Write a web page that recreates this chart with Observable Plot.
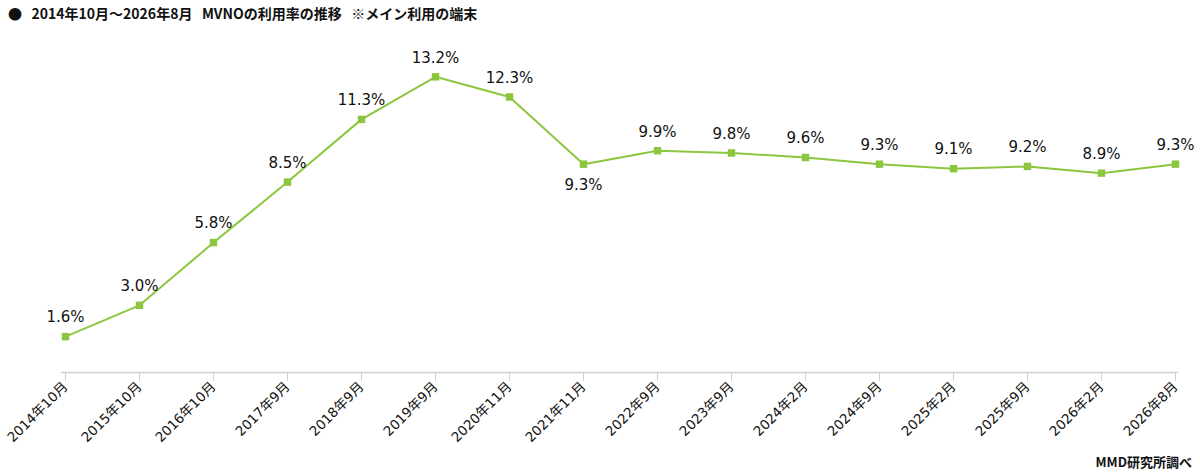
<!DOCTYPE html>
<html><head><meta charset="utf-8">
<script src="https://cdn.jsdelivr.net/npm/d3@7"></script>
<script src="https://cdn.jsdelivr.net/npm/@observablehq/plot@0.6"></script>
<style>
body{margin:0;background:#fff;font-family:"Noto Sans CJK JP","Noto Sans",sans-serif;}
#wrap{position:relative;width:1200px;height:475px;}
#title{position:absolute;left:8px;top:3px;font-size:14px;font-weight:bold;color:#111;}
#cap{position:absolute;right:8px;bottom:4px;font-size:13px;font-weight:bold;color:#111;}
#chart{position:absolute;left:0;top:30px;}
</style></head><body>
<div id="wrap">
<div id="title">●&nbsp;&nbsp;&nbsp;2014年10月～2026年8月&nbsp;&nbsp;&nbsp;MVNOの利用率の推移&nbsp;&nbsp;&nbsp;※メイン利用の端末</div>
<div id="chart"></div>
<div id="cap">MMD研究所調べ</div>
</div>
<script>
const periods=["2014年10月","2015年10月","2016年10月","2017年9月","2018年9月","2019年9月","2020年11月","2021年11月","2022年9月","2023年9月","2024年2月","2024年9月","2025年2月","2025年9月","2026年2月","2026年8月"];
const rates=[1.6,3.0,5.8,8.5,11.3,13.2,12.3,9.3,9.9,9.8,9.6,9.3,9.1,9.2,8.9,9.3];
const below=["2021年11月"];
const data=periods.map((p,i)=>({p,v:rates[i],b:below.includes(p)}));
const chart=Plot.plot({
  width:1200,height:445,marginLeft:61,marginRight:22,marginTop:6,marginBottom:103,
  style:{fontFamily:"'DejaVu Sans','Noto Sans CJK JP',sans-serif",fontSize:"13.5px",color:"#111"},
  x:{type:"point",domain:periods,padding:0,label:null,tickRotate:-45,tickSize:0,tickPadding:12},
  y:{domain:[0,15],axis:null},
  marks:[
    Plot.ruleY([0],{stroke:"#d0d0d0",strokeWidth:1.5}),
    Plot.ruleX(periods,{x:d=>d,y1:0,y2:-0.4,stroke:"#d0d0d0"}),
    Plot.line(data,{x:"p",y:"v",stroke:"#8CC63F",strokeWidth:2}),
    Plot.dot(data,{x:"p",y:"v",symbol:"square",fill:"#8CC63F",r:4.2}),
    Plot.text(data.filter(d=>!d.b),{x:"p",y:"v",text:d=>d.v.toFixed(1)+"%",dy:-19,fontSize:15,fill:"#111",fontFamily:"DejaVu Sans"}),
    Plot.text(data.filter(d=>d.b),{x:"p",y:"v",text:d=>d.v.toFixed(1)+"%",dy:21,fontSize:15,fill:"#111",fontFamily:"DejaVu Sans"})
  ]
});
document.getElementById("chart").append(chart);
</script>
</body></html>
